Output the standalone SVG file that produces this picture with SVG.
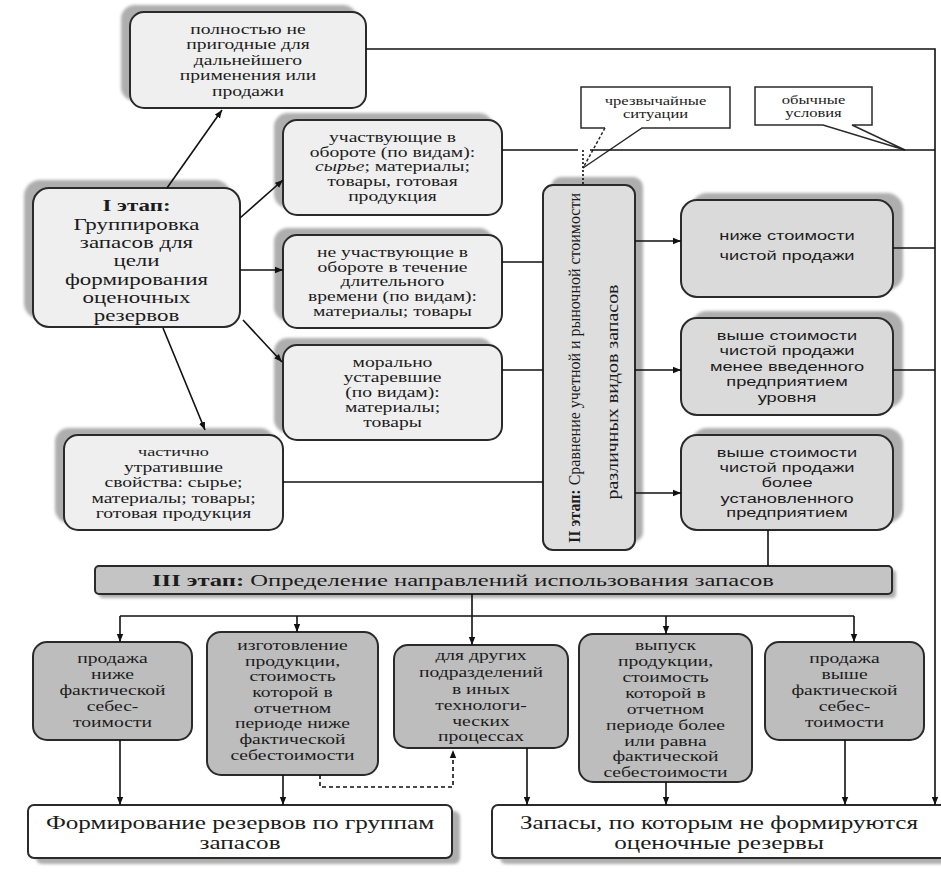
<svg xmlns="http://www.w3.org/2000/svg" width="941" height="873" viewBox="0 0 941 873">
<defs>
<marker id="ah" viewBox="0 0 10 10" refX="10" refY="5" markerWidth="8" markerHeight="8" orient="auto" markerUnits="userSpaceOnUse"><path d="M0,1 L10,5 L0,9 z" fill="#111"/></marker>
<filter id="blur" x="-10%" y="-10%" width="120%" height="120%"><feGaussianBlur stdDeviation="1.5"/></filter>
</defs>
<style>
.box{stroke:#2a2a2a;stroke-width:2}
.lt{fill:#efefef}
.md{fill:#dadada}
.dk{fill:#bdbdbd}
.wh{fill:#ffffff}
.sh{fill:#aeaeae;filter:url(#blur)}
.t{font-family:"Liberation Serif","DejaVu Serif",serif;font-size:14px;fill:#1c1c1c;text-anchor:middle}
.s{font-family:"Liberation Sans","DejaVu Sans",sans-serif;font-size:13.5px;fill:#1c1c1c;text-anchor:middle}
.st{text-anchor:start}
.big{font-size:17px}
.c{font-size:12px}
.lg{font-size:18px}
.rot{font-size:17px}
.ln{fill:none;stroke:#111;stroke-width:1.6}
.ar{marker-end:url(#ah)}
</style>

<!-- callouts -->
<g id="callout-emergency">
<path d="M581,87 H730 V128 H642 L583,168 L605,128 H581 Z" fill="#fff"/>
<path d="M605,128 H581 V87 H730 V128 H642 L583,168" fill="none" stroke="#2a2a2a" stroke-width="1.5"/>
<path d="M605,128 L583,168" fill="none" stroke="#2a2a2a" stroke-width="1.5" stroke-dasharray="3,2"/>
<g transform="translate(655.5 0) scale(1.38 1)"><text class="t c" x="0" y="105">чрезвычайные</text><text class="t c" x="0" y="118">ситуации</text></g>
</g>
<g id="callout-normal">
<path d="M755,87 H872 V125 H852 L905,150 L823,125 H755 Z" fill="#fff" stroke="#2a2a2a" stroke-width="1.5"/>
<g transform="translate(813.5 0) scale(1.38 1)"><text class="t c" x="0" y="104">обычные</text><text class="t c" x="0" y="117">условия</text></g>
</g>

<!-- top box -->
<g id="n-unfit">
<rect class="sh" x="121" y="5" width="236" height="96" rx="14"/>
<rect class="box lt" x="130" y="12" width="236" height="96" rx="14"/>
<g transform="translate(248 0) scale(1.4 1)">
<text class="t" x="0" y="34">полностью не</text>
<text class="t" x="0" y="49.5">пригодные для</text>
<text class="t" x="0" y="65">дальнейшего</text>
<text class="t" x="0" y="80.5">применения или</text>
<text class="t" x="0" y="96">продажи</text>
</g>
</g>

<!-- stage I -->
<g id="n-stage1">
<rect class="sh" x="24" y="180" width="207" height="139" rx="16"/>
<rect class="box lt" x="33" y="188" width="207" height="139" rx="16"/>
<g transform="translate(136.5 0) scale(1.35 1)">
<text class="t big" x="0" y="211" font-weight="bold">I этап:</text>
<text class="t big" x="0" y="230">Группировка</text>
<text class="t big" x="0" y="248">запасов для</text>
<text class="t big" x="0" y="266">цели</text>
<text class="t big" x="0" y="285">формирования</text>
<text class="t big" x="0" y="303">оценочных</text>
<text class="t big" x="0" y="321">резервов</text>
</g>
</g>

<g id="n-turnover">
<rect class="sh" x="274" y="113" width="219" height="95" rx="14"/>
<rect class="box lt" x="283" y="120" width="219" height="95" rx="14"/>
<g transform="translate(392.5 0) scale(1.4 1)">
<text class="t" x="0" y="142">участвующие в</text>
<text class="t" x="0" y="157">обороте (по видам):</text>
<text class="t" x="0" y="171.5"><tspan font-style="italic">сырье</tspan>; материалы;</text>
<text class="t" x="0" y="186">товары, готовая</text>
<text class="t" x="0" y="201">продукция</text>
</g>
</g>

<g id="n-notturnover">
<rect class="sh" x="274" y="228" width="219" height="93" rx="14"/>
<rect class="box lt" x="283" y="235" width="219" height="93" rx="14"/>
<g transform="translate(392.5 0) scale(1.4 1)">
<text class="t" x="0" y="257">не участвующие в</text>
<text class="t" x="0" y="272">обороте в течение</text>
<text class="t" x="0" y="286.5">длительного</text>
<text class="t" x="0" y="301">времени (по видам):</text>
<text class="t" x="0" y="316">материалы; товары</text>
</g>
</g>

<g id="n-obsolete">
<rect class="sh" x="274" y="338" width="219" height="95" rx="14"/>
<rect class="box lt" x="283" y="345" width="219" height="95" rx="14"/>
<g transform="translate(392.5 0) scale(1.4 1)">
<text class="t" x="0" y="367">морально</text>
<text class="t" x="0" y="382">устаревшие</text>
<text class="t" x="0" y="397">(по видам):</text>
<text class="t" x="0" y="412">материалы;</text>
<text class="t" x="0" y="427">товары</text>
</g>
</g>

<g id="n-partial">
<rect class="sh" x="55" y="428" width="219" height="95" rx="14"/>
<rect class="box lt" x="64" y="435" width="219" height="95" rx="14"/>
<g transform="translate(173.5 0) scale(1.4 1)">
<text class="t" x="0" y="456" style="font-size:13px">частично</text>
<text class="t" x="0" y="472">утратившие</text>
<text class="t" x="0" y="487">свойства: сырье;</text>
<text class="t" x="0" y="503">материалы; товары;</text>
<text class="t" x="0" y="518">готовая продукция</text>
</g>
</g>

<!-- stage II -->
<g id="n-stage2">
<rect class="sh" x="551" y="177" width="92" height="365" rx="10"/>
<rect class="box" fill="#dedede" x="543" y="185" width="92" height="365" rx="10"/>
<text class="t rot" transform="translate(580 368) rotate(-90)" x="0" y="0" textLength="350" lengthAdjust="spacingAndGlyphs"><tspan font-weight="bold">II этап:</tspan> Сравнение учетной и рыночной стоимости</text>
<text class="t rot" transform="translate(618 392) rotate(-90)" x="0" y="0" textLength="215" lengthAdjust="spacingAndGlyphs">различных видов запасов</text>
</g>

<!-- right boxes -->
<g id="n-below">
<rect class="sh" x="691" y="193" width="212" height="97" rx="16"/>
<rect class="box md" x="681" y="200" width="212" height="97" rx="16"/>
<g transform="translate(787 0) scale(1.35 1)">
<text class="s" x="0" y="240">ниже стоимости</text>
<text class="s" x="0" y="260">чистой продажи</text>
</g>
</g>

<g id="n-above-less">
<rect class="sh" x="691" y="311" width="212" height="97" rx="16"/>
<rect class="box md" x="681" y="318" width="212" height="97" rx="16"/>
<g transform="translate(787 0) scale(1.35 1)">
<text class="s" x="0" y="340">выше стоимости</text>
<text class="s" x="0" y="355.5">чистой продажи</text>
<text class="s" x="0" y="371">менее введенного</text>
<text class="s" x="0" y="386.5">предприятием</text>
<text class="s" x="0" y="402">уровня</text>
</g>
</g>

<g id="n-above-more">
<rect class="sh" x="691" y="428" width="212" height="95" rx="16"/>
<rect class="box md" x="681" y="435" width="212" height="95" rx="16"/>
<g transform="translate(787 0) scale(1.35 1)">
<text class="s" x="0" y="457">выше стоимости</text>
<text class="s" x="0" y="472">чистой продажи</text>
<text class="s" x="0" y="487">более</text>
<text class="s" x="0" y="503">установленного</text>
<text class="s" x="0" y="517">предприятием</text>
</g>
</g>

<!-- stage III bar -->
<g id="n-stage3">
<rect class="sh" x="99" y="570" width="797" height="28" rx="4"/>
<rect class="box" fill="#c4c4c4" x="95" y="566" width="797" height="28" rx="4"/>
<text class="t st" style="font-size:16.5px" x="152" y="586" textLength="622" lengthAdjust="spacingAndGlyphs"><tspan font-weight="bold">III этап:</tspan> Определение направлений использования запасов</text>
</g>

<!-- bottom row -->
<g id="n-sale-below">
<rect class="box dk" x="33" y="642" width="159" height="98" rx="14"/>
<g transform="translate(112.5 0) scale(1.4 1)">
<text class="t" x="0" y="663">продажа</text>
<text class="t" x="0" y="679">ниже</text>
<text class="t" x="0" y="695">фактической</text>
<text class="t" x="0" y="711">себес-</text>
<text class="t" x="0" y="727">тоимости</text>
</g>
</g>

<g id="n-manufacture">
<rect class="box dk" x="207" y="632" width="171" height="143" rx="14"/>
<g transform="translate(292.5 0) scale(1.4 1)">
<text class="t" x="0" y="650">изготовление</text>
<text class="t" x="0" y="666">продукции,</text>
<text class="t" x="0" y="681">стоимость</text>
<text class="t" x="0" y="697">которой в</text>
<text class="t" x="0" y="713">отчетном</text>
<text class="t" x="0" y="728">периоде ниже</text>
<text class="t" x="0" y="744">фактической</text>
<text class="t" x="0" y="760">себестоимости</text>
</g>
</g>

<g id="n-other-units">
<rect class="box dk" x="394" y="645" width="174" height="103" rx="14"/>
<g transform="translate(481 0) scale(1.4 1)">
<text class="t" x="0" y="660">для других</text>
<text class="t" x="0" y="677">подразделений</text>
<text class="t" x="0" y="694">в иных</text>
<text class="t" x="0" y="710">технологи-</text>
<text class="t" x="0" y="726">ческих</text>
<text class="t" x="0" y="741">процессах</text>
</g>
</g>

<g id="n-release">
<rect class="box dk" x="579" y="634" width="173" height="148" rx="14"/>
<g transform="translate(665.5 0) scale(1.4 1)">
<text class="t" x="0" y="650">выпуск</text>
<text class="t" x="0" y="666">продукции,</text>
<text class="t" x="0" y="682">стоимость</text>
<text class="t" x="0" y="698">которой в</text>
<text class="t" x="0" y="714">отчетном</text>
<text class="t" x="0" y="730">периоде более</text>
<text class="t" x="0" y="746">или равна</text>
<text class="t" x="0" y="761">фактической</text>
<text class="t" x="0" y="777">себестоимости</text>
</g>
</g>

<g id="n-sale-above">
<rect class="box dk" x="765" y="642" width="159" height="98" rx="14"/>
<g transform="translate(844.5 0) scale(1.4 1)">
<text class="t" x="0" y="663">продажа</text>
<text class="t" x="0" y="679">выше</text>
<text class="t" x="0" y="695">фактической</text>
<text class="t" x="0" y="711">себес-</text>
<text class="t" x="0" y="727">тоимости</text>
</g>
</g>

<!-- bottom boxes -->
<g id="n-reserves">
<rect class="sh" x="36" y="811" width="424" height="53" rx="6"/>
<rect class="box wh" x="28" y="805" width="424" height="53" rx="6"/>
<g transform="translate(240 0) scale(1.4 1)">
<text class="t lg" x="0" y="829">Формирование резервов по группам</text>
<text class="t lg" x="0" y="849">запасов</text>
</g>
</g>

<g id="n-noreserves">
<rect class="sh" x="500" y="811" width="460" height="53" rx="6"/>
<rect class="box wh" x="492" y="805" width="460" height="53" rx="6"/>
<g transform="translate(719 0) scale(1.4 1)">
<text class="t lg" x="0" y="829">Запасы, по которым не формируются</text>
<text class="t lg" x="0" y="849">оценочные резервы</text>
</g>
</g>

<!-- connectors -->
<g id="connectors">
<path class="ln ar" d="M167,188 L222,110"/>
<path class="ln ar" d="M240,218 L283,180"/>
<path class="ln ar" d="M240,270 H283"/>
<path class="ln ar" d="M243,320 L282,362"/>
<path class="ln ar" d="M163,328 L205,430"/>
<path class="ln ar" d="M366,49 H935 V805"/>
<path class="ln" d="M502,150 H578 M590,150 H935"/>
<path class="ln" d="M502,262 H543"/>
<path class="ln" d="M502,370 H543"/>
<path class="ln" d="M283,482 H543"/>
<path class="ln ar" d="M635,241 H681"/>
<path class="ln ar" d="M635,370 H681"/>
<path class="ln ar" d="M635,493 H681"/>
<path class="ln" d="M893,248 H935"/>
<path class="ln" d="M893,370 H935"/>
<path class="ln" d="M768,530 V566"/>
<path class="ln ar" d="M472,594 V645"/>
<path class="ln" d="M120,616 H854"/>
<path class="ln ar" d="M120,616 V642"/>
<path class="ln ar" d="M297,616 V632"/>
<path class="ln ar" d="M666,616 V634"/>
<path class="ln ar" d="M854,616 V642"/>
<path class="ln ar" d="M120,740 V805"/>
<path class="ln ar" d="M283,775 V805"/>
<path class="ln ar" d="M527,748 V805"/>
<path class="ln ar" d="M666,782 V805"/>
<path class="ln ar" d="M845,740 V805"/>
<path class="ln ar" d="M320,775 V787 H453 V750" stroke-dasharray="4,3"/>
<path class="ln" d="M583,150 V185" stroke-dasharray="2,2" stroke-width="2.2"/>
</g>
</svg>
